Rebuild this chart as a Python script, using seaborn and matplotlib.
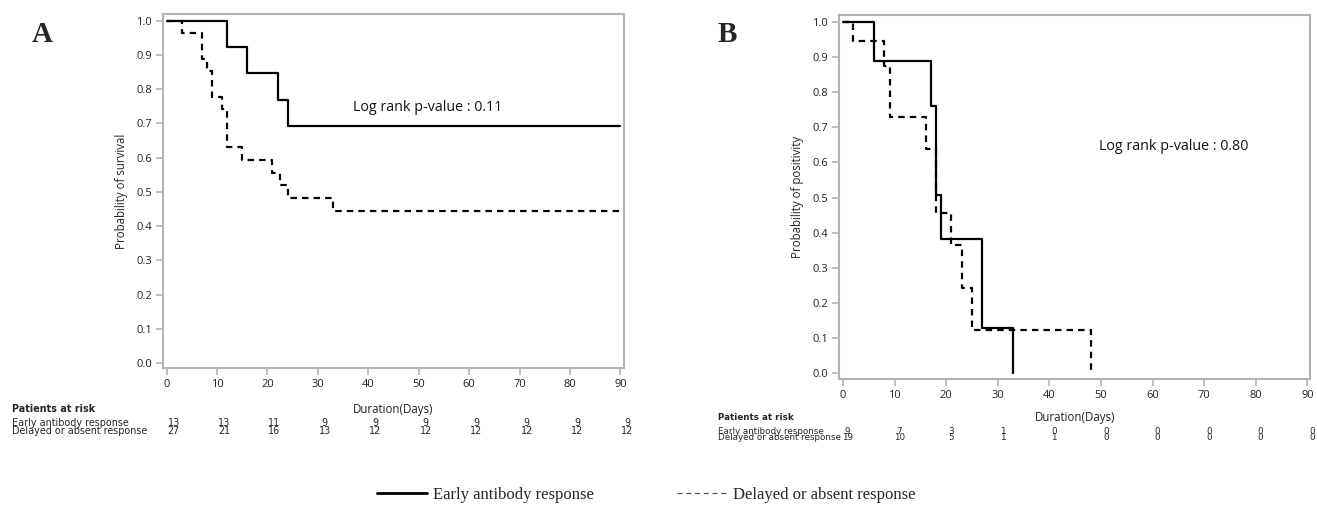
import numpy as np
import pandas as pd
import matplotlib
matplotlib.use("Agg")
import matplotlib.pyplot as plt
import matplotlib.transforms as mtransforms
from matplotlib.lines import Line2D
import seaborn as sns

# ---------------- data ----------------
groups = ["Early antibody response", "Delayed or absent response"]

A_early_t = [0, 12, 16, 22, 24, 90]
A_early_s = [1.0, 0.923, 0.846, 0.769, 0.692, 0.692]
A_delay_t = [0, 3, 7, 8, 9, 11, 12, 15, 21, 22.5, 24, 33, 90]
A_delay_s = [1.0, 0.963, 0.889, 0.852, 0.778, 0.741, 0.630, 0.593, 0.556, 0.519, 0.481, 0.444, 0.444]

B_early_t = [0, 6, 17, 18, 19, 27, 33]
B_early_s = [1.0, 0.889, 0.762, 0.508, 0.381, 0.127, 0.0]
B_delay_t = [0, 2, 8, 9, 16, 18, 21, 23, 25, 48]
B_delay_s = [1.0, 0.947, 0.874, 0.729, 0.638, 0.456, 0.365, 0.243, 0.122, 0.0]

risk_times = [0, 10, 20, 30, 40, 50, 60, 70, 80, 90]
A_risk_early = [13, 13, 11, 9, 9, 9, 9, 9, 9, 9]
A_risk_delay = [27, 21, 16, 13, 12, 12, 12, 12, 12, 12]
B_risk_early = [9, 7, 3, 1, 0, 0, 0, 0, 0, 0]
B_risk_delay = [19, 10, 5, 1, 1, 0, 0, 0, 0, 0]

A_ylabel = "Probability of survival"
B_ylabel = "Probability of positivity"
A_pval = "Log rank p-value : 0.11"
B_pval = "Log rank p-value : 0.80"
xlabel = "Duration(Days)"

# ---------------- style ----------------
sns.set_style("white")
plt.rcParams["font.family"] = ["Open Sans", "DejaVu Sans"]

W, H = 1317, 515
fig = plt.figure(figsize=(W / 100, H / 100), dpi=100)

def fx(px):
    return px / W

def fy(py):
    return 1 - py / H

spine_c = "#b4b4b4"
dash = (2.9, 2.3)

def make_panel(rect, xlim, ylim, et, es, dt, ds, ylabel, pval, pxy,
               risk_e, risk_d, ylab_x, risk_rows, risk_off, tbl_fs,
               label, label_xy):
    ax = fig.add_axes(rect)
    de = pd.DataFrame({"t": et, "s": es})
    dd = pd.DataFrame({"t": dt, "s": ds})
    sns.lineplot(data=de, x="t", y="s", ax=ax, color="black", lw=1.6,
                 drawstyle="steps-post", estimator=None, sort=False, legend=False)
    sns.lineplot(data=dd, x="t", y="s", ax=ax, color="black", lw=1.6,
                 drawstyle="steps-post", estimator=None, sort=False, legend=False,
                 dashes=False, linestyle=(0, dash))
    ax.set_xlim(*xlim)
    ax.set_ylim(*ylim)
    ax.set_xticks(risk_times)
    ax.set_yticks(np.round(np.arange(0, 1.01, 0.1), 1))
    ax.set_yticklabels([f"{v:.1f}" for v in np.arange(0, 1.01, 0.1)])
    ax.tick_params(axis="both", direction="out", length=5, width=1.2,
                   color=spine_c, labelsize=8, labelcolor="#222222", pad=3,
                   bottom=True, left=True)
    for sp in ax.spines.values():
        sp.set_color(spine_c)
        sp.set_linewidth(1.5)
    ax.set_xlabel("")
    ax.set_ylabel("")
    fig.text(fx(ylab_x), rect[1] + rect[3] / 2, ylabel, rotation=90,
             ha="center", va="center", fontsize=8.3, color="#222222")
    ax.text(pxy[0], pxy[1], pval, ha="left", va="center", fontsize=10.3,
            color="#111111")
    # at-risk table
    tr = mtransforms.blended_transform_factory(ax.transData, fig.transFigure)
    y_title, y_dur, y_e, y_d, x_lab = risk_rows
    fig.text(fx(x_lab), fy(y_title), "Patients at risk", ha="left", va="center",
             fontsize=tbl_fs, fontweight="bold", family="DejaVu Sans")
    fig.text(fx(x_lab), fy(y_e), groups[0], ha="left", va="center",
             fontsize=tbl_fs, family="DejaVu Sans")
    fig.text(fx(x_lab), fy(y_d), groups[1], ha="left", va="center",
             fontsize=tbl_fs, family="DejaVu Sans")
    ax.text(45, fy(y_dur), xlabel, transform=tr, ha="center", va="center",
            fontsize=8.3, color="#222222")
    for t, a, b in zip(risk_times, risk_e, risk_d):
        ax.text(t + risk_off, fy(y_e), str(a), transform=tr, ha="center",
                va="center", fontsize=tbl_fs, family="DejaVu Sans")
        ax.text(t + risk_off, fy(y_d), str(b), transform=tr, ha="center",
                va="center", fontsize=tbl_fs, family="DejaVu Sans")
    fig.text(fx(label_xy[0]), fy(label_xy[1]), label, ha="center", va="center",
             fontsize=21, fontweight="bold", family="Liberation Serif")
    return ax

# Panel A
make_panel([fx(163), fy(368), (624 - 163) / W, (368 - 14) / H],
           (-0.71, 90.71), (-0.0146, 1.019),
           A_early_t, A_early_s, A_delay_t, A_delay_s,
           A_ylabel, A_pval, (36.9, 0.746),
           A_risk_early, A_risk_delay, 121,
           (409, 410, 423, 431, 12), 1.4, 6.9, "A", (42, 35))

# Panel B
make_panel([fx(839), fy(379), (1310 - 839) / W, (379 - 15) / H],
           (-0.79, 90.5), (-0.017, 1.02),
           B_early_t, B_early_s, B_delay_t, B_delay_s,
           B_ylabel, B_pval, (49.6, 0.646),
           B_risk_early, B_risk_delay, 797,
           (418, 418, 431, 438, 718), 0.9, 6.3, "B", (727, 35))

# shared legend
handles = [Line2D([], [], color="black", lw=2.0),
           Line2D([], [], color="#555555", lw=0.9, linestyle=(0, (4, 3)))]
fig.legend(handles, groups, loc="center", bbox_to_anchor=(fx(646), fy(495)),
           ncol=2, frameon=False, prop={"family": "Liberation Serif", "size": 12},
           handlelength=3.0, handletextpad=0.35, columnspacing=5.0)

fig.savefig("out.png", dpi=100)
